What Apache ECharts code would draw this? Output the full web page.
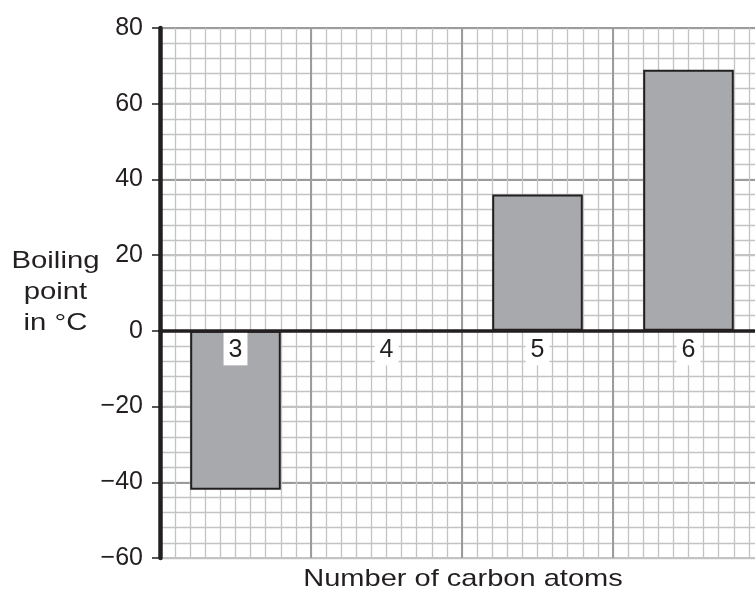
<!DOCTYPE html>
<html><head><meta charset="utf-8">
<script src="https://cdn.jsdelivr.net/npm/echarts@6/dist/echarts.min.js"></script>
<style>html,body{margin:0;padding:0;background:#fff}#c{width:755px;height:594px}</style>
</head><body><div id="c"></div>
<script>
// ---- data ----
const categories = ['3', '4', '5', '6'];
const boilingPoints = [-42, null, 36, 69];
const yTickValues = [-60, -40, -20, 0, 20, 40, 60, 80];
const yAxisTitle = 'Boiling\npoint\nin °C';
const xAxisTitle = 'Number of carbon atoms';

const INK = '#231f20';
const MINOR = '#c3c3c3';
const MAJOR = '#9c9c9c';
const yMin = yTickValues[0], yMax = yTickValues[yTickValues.length - 1];
const yStep = yTickValues[1] - yTickValues[0];

const chart = echarts.init(document.getElementById('c'), null, {renderer: 'canvas'});
const hidden = {axisLine: {show: false}, axisTick: {show: false}, axisLabel: {show: false}};
chart.setOption({
  animation: false,
  backgroundColor: '#fff',
  grid: {left: 160, right: -9, top: 28, bottom: 36, outerBoundsMode: 'none', containLabel: false},
  xAxis: [
    Object.assign({type: 'value', position: 'bottom', min: 0, max: categories.length * 10, interval: 1,
      splitLine: {show: true, lineStyle: {color: MINOR, width: 1.3}}}, hidden),
    Object.assign({type: 'value', position: 'bottom', min: 0, max: categories.length, interval: 1,
      splitLine: {show: true, lineStyle: {color: MAJOR, width: 2}}}, hidden),
    {type: 'category', position: 'bottom', data: categories, boundaryGap: true, z: 5,
      axisLine: {show: true, onZero: true, onZeroAxisIndex: 1, lineStyle: {color: INK, width: 3.5}},
      axisTick: {show: false}, axisLabel: {show: false}, splitLine: {show: false}}
  ],
  yAxis: [
    Object.assign({type: 'value', position: 'left', min: yMin, max: yMax, interval: 4,
      splitLine: {show: true, lineStyle: {color: MINOR, width: 1.3}}}, hidden),
    {type: 'value', position: 'left', min: yMin, max: yMax, interval: yStep,
      axisLine: {show: true, onZero: false, lineStyle: {color: INK, width: 4.5}},
      axisTick: {show: true, inside: false, length: 8, lineStyle: {color: INK, width: 1.5}},
      axisLabel: {show: true, margin: 17, color: INK, fontSize: 25, fontFamily: 'Liberation Sans, Arial, sans-serif',
        formatter: v => (v < 0 ? '\u2212' + Math.abs(v) : String(v))},
      splitLine: {show: true, lineStyle: {color: [MINOR, MAJOR], width: 2}}}
  ],
  series: [
    {type: 'bar', xAxisIndex: 2, yAxisIndex: 1, data: boilingPoints, barWidth: '60%',
      itemStyle: {color: '#a7a9ac', borderColor: INK, borderWidth: 2}},
    {type: 'scatter', xAxisIndex: 2, yAxisIndex: 1, z: 4, symbolSize: 1, silent: true,
      itemStyle: {color: 'rgba(0,0,0,0)', opacity: 1},
      data: categories.map(c => [c, 0]),
      label: {show: true, position: 'bottom', distance: 1, formatter: p => p.value[0], opacity: 1,
        color: INK, fontSize: 25, lineHeight: 25, fontFamily: 'Liberation Sans, Arial, sans-serif',
        backgroundColor: '#fff', padding: [5, 5, 3, 5]}}
  ],
  graphic: [
    {type: 'text', x: 55.5, y: 292, scaleX: 1.22, z: 10,
      style: {text: yAxisTitle, x: 0, y: 0, textAlign: 'center', textVerticalAlign: 'middle',
        font: '24px "Liberation Sans", Arial, sans-serif', lineHeight: 31, fill: INK}},
    {type: 'text', x: 463, y: 579, scaleX: 1.21, z: 10,
      style: {text: xAxisTitle, x: 0, y: 0, textAlign: 'center', textVerticalAlign: 'middle',
        font: '24px "Liberation Sans", Arial, sans-serif', fill: INK}}
  ]
});
</script></body></html>
